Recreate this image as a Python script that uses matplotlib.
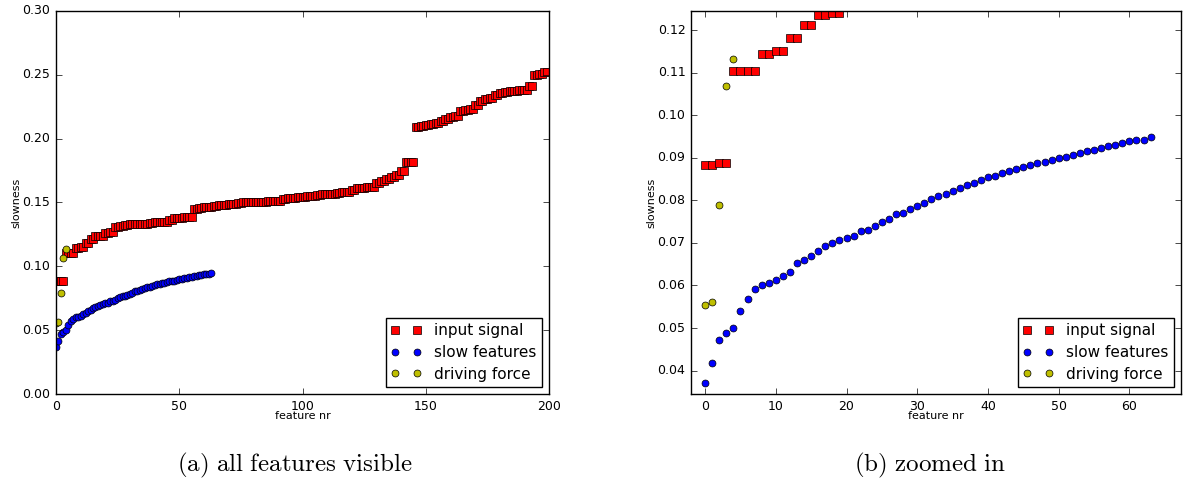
import numpy as np
import matplotlib
matplotlib.use('Agg')
import matplotlib.pyplot as plt

plt.style.use('classic')
plt.rcParams['mathtext.fontset'] = 'cm'
plt.rcParams['font.family'] = ['DejaVu Sans']

# slowness of the input signal (200 features, sorted)
input_signal = [
    0.0883, 0.0883, 0.0887, 0.0887, 0.1103, 0.1103, 0.1105, 0.1105, 0.1143, 0.1143,
    0.1152, 0.1152, 0.1181, 0.1181, 0.1212, 0.1212, 0.1236, 0.1236, 0.1240, 0.1240,
    0.1262, 0.1262, 0.1270, 0.1270, 0.1310, 0.1310, 0.1318, 0.1318, 0.1325, 0.1325,
    0.1328, 0.1328, 0.1330, 0.1330, 0.1332, 0.1332, 0.1335, 0.1335, 0.1340, 0.1340,
    0.1345, 0.1345, 0.1347, 0.1347, 0.1350, 0.1350, 0.1365, 0.1365, 0.1375, 0.1375,
    0.1380, 0.1380, 0.1383, 0.1383, 0.1390, 0.1390, 0.1450, 0.1450, 0.1455, 0.1455,
    0.1462, 0.1462, 0.1467, 0.1467, 0.1470, 0.1470, 0.1478, 0.1478, 0.1482, 0.1482,
    0.1488, 0.1488, 0.1492, 0.1492, 0.1495, 0.1495, 0.1500, 0.1500, 0.1502, 0.1502,
    0.1503, 0.1503, 0.1504, 0.1504, 0.1505, 0.1505, 0.1510, 0.1510, 0.1512, 0.1512,
    0.1515, 0.1515, 0.1530, 0.1530, 0.1535, 0.1535, 0.1537, 0.1537, 0.1540, 0.1540,
    0.1543, 0.1543, 0.1550, 0.1550, 0.1553, 0.1553, 0.1560, 0.1560, 0.1565, 0.1565,
    0.1568, 0.1568, 0.1570, 0.1570, 0.1575, 0.1575, 0.1580, 0.1580, 0.1585, 0.1585,
    0.1595, 0.1595, 0.1610, 0.1610, 0.1615, 0.1615, 0.1620, 0.1620, 0.1625, 0.1625,
    0.1650, 0.1650, 0.1665, 0.1665, 0.1685, 0.1685, 0.1700, 0.1700, 0.1715, 0.1715,
    0.1745, 0.1745, 0.1815, 0.1815, 0.1817, 0.1817, 0.2095, 0.2095, 0.2102, 0.2102,
    0.2108, 0.2108, 0.2115, 0.2115, 0.2120, 0.2120, 0.2135, 0.2135, 0.2155, 0.2155,
    0.2172, 0.2172, 0.2180, 0.2180, 0.2215, 0.2215, 0.2228, 0.2228, 0.2235, 0.2235,
    0.2260, 0.2260, 0.2295, 0.2295, 0.2310, 0.2310, 0.2315, 0.2315, 0.2345, 0.2345,
    0.2360, 0.2360, 0.2368, 0.2368, 0.2372, 0.2372, 0.2375, 0.2375, 0.2380, 0.2380,
    0.2385, 0.2385, 0.2410, 0.2410, 0.2495, 0.2495, 0.2505, 0.2505, 0.2520, 0.2520,
]

# slowness of the 64 extracted slow features
slow_features = [
    0.0371, 0.0419, 0.0472, 0.0489, 0.0501, 0.0540, 0.0568, 0.0591, 0.0601, 0.0606,
    0.0614, 0.0623, 0.0632, 0.0652, 0.0660, 0.0670, 0.0682, 0.0693, 0.0701, 0.0707,
    0.0711, 0.0716, 0.0728, 0.0731, 0.0740, 0.0749, 0.0757, 0.0767, 0.0771, 0.0779,
    0.0786, 0.0794, 0.0803, 0.0810, 0.0816, 0.0822, 0.0828, 0.0835, 0.0840, 0.0847,
    0.0854, 0.0858, 0.0864, 0.0868, 0.0873, 0.0878, 0.0882, 0.0888, 0.0889, 0.0896,
    0.0899, 0.0903, 0.0907, 0.0912, 0.0916, 0.0919, 0.0923, 0.0927, 0.0931, 0.0935,
    0.0940, 0.0941, 0.0943, 0.0949,
]

# slowness of the driving forces
driving_force = [0.0555, 0.0562, 0.0789, 0.1069, 0.1132]

x_ticks_a = [0, 50, 100, 150, 200]
y_ticks_a = [0.00, 0.05, 0.10, 0.15, 0.20, 0.25, 0.30]
x_ticks_b = [0, 10, 20, 30, 40, 50, 60]
y_ticks_b = [0.04, 0.05, 0.06, 0.07, 0.08, 0.09, 0.10, 0.11, 0.12]

fig = plt.figure(figsize=(11.84, 4.86), dpi=100, facecolor='white')
ax1 = fig.add_axes([56/1184, 92/486, 493/1184, 383/486])
ax2 = fig.add_axes([691/1184, 92/486, 490/1184, 383/486])


def draw(ax):
    ax.plot(np.arange(len(input_signal)), input_signal, 's', color='r',
            mec='k', mew=0.5, ms=5.3, label='input signal')
    ax.plot(np.arange(len(slow_features)), slow_features, 'o', color='b',
            mec='k', mew=0.5, ms=5.0, label='slow features')
    ax.plot(np.arange(len(driving_force)), driving_force, 'o', color='y',
            mec='k', mew=0.5, ms=5.0, label='driving force')
    ax.set_xlabel('feature nr', fontsize=8, labelpad=-1)
    ax.set_ylabel('slowness', fontsize=8, labelpad=1)
    ax.tick_params(labelsize=9)
    ax.legend(loc='lower right', numpoints=2, fontsize=11, fancybox=False,
              borderaxespad=0.45, borderpad=0.35, handlelength=2.0,
              handletextpad=0.85, labelspacing=0.45)


draw(ax1)
ax1.set_xlim(0, 200)
ax1.set_ylim(0, 0.30)
ax1.set_xticks(x_ticks_a)
ax1.set_yticks(y_ticks_a)
ax1.set_yticklabels(['%.2f' % v for v in y_ticks_a])

draw(ax2)
ax2.set_xlim(-2, 67.3)
ax2.set_ylim(0.0345, 0.1245)
ax2.set_xticks(x_ticks_b)
ax2.set_yticks(y_ticks_b)
ax2.set_yticklabels(['%.2f' % v for v in y_ticks_b])

fig.text(295/1184, 1 - 465/486, r'$\mathrm{(a)\ all\ features\ visible}$',
         ha='center', va='center', fontsize=18)
fig.text(930/1184, 1 - 465/486, r'$\mathrm{(b)\ zoomed\ in}$',
         ha='center', va='center', fontsize=18)

fig.savefig('out.png', dpi=100, facecolor='white')
